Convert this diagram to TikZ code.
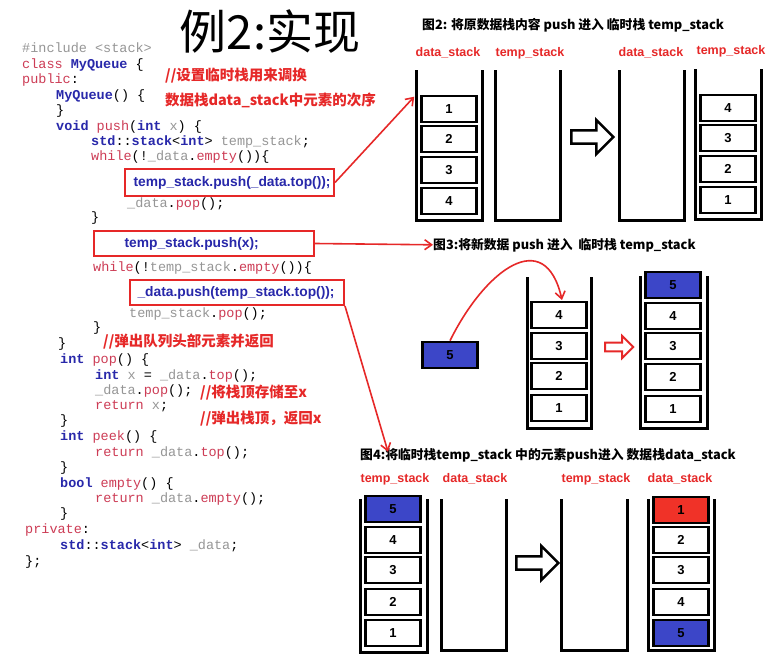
\documentclass[tikz,border=0pt]{standalone}
\usepackage{fontspec}
\setmainfont{Liberation Sans}
\setmonofont{Liberation Mono}
\newfontfamily\cjk{Noto Sans CJK SC}
\usetikzlibrary{shapes.arrows,arrows.meta}
\definecolor{kwblue}{RGB}{40,40,170}
\definecolor{kwred}{RGB}{205,60,85}
\definecolor{cgrey}{RGB}{150,150,150}
\definecolor{hlred}{RGB}{230,40,40}
\definecolor{boxblue}{RGB}{60,70,200}
\definecolor{boxred}{RGB}{240,50,40}
\newcommand\kb[1]{\textcolor{kwblue}{\textbf{#1}}}
\newcommand\kr[1]{\textcolor{kwred}{#1}}
\newcommand\kg[1]{\textcolor{cgrey}{#1}}
\begin{document}
\begin{tikzpicture}[x=1pt,y=-1pt,
  code/.style={anchor=base west,inner sep=0pt,font=\ttfamily\fontsize{13.5}{14}\selectfont},
  hl/.style={draw=hlred,line width=2pt,inner sep=0pt,anchor=north west},
  hltext/.style={font=\bfseries\fontsize{13.8}{15}\selectfont,text=kwblue},
  cmt/.style={anchor=base west,inner sep=0pt,text=hlred,font=\cjk\bfseries\fontsize{14.5}{16}\selectfont},
  ttl/.style={anchor=base west,inner sep=0pt,font=\cjk\bfseries\fontsize{12.8}{14}\selectfont},
  slabel/.style={text=hlred,inner sep=0pt,font=\bfseries\fontsize{12.5}{14}\selectfont},
  wall/.style={line width=3pt,line cap=rect},
  cell/.style={draw,line width=2.6pt,fill=white,minimum width=55pt,minimum height=26pt,inner sep=0pt,font=\bfseries\fontsize{13}{14}\selectfont},
  hollow/.style={single arrow,draw,line width=2.5pt,fill=white,minimum width=34pt,single arrow head extend=5pt,minimum height=42pt,inner sep=2pt},
  redarr/.style={draw=hlred,line width=1.6pt,-{Straight Barb[length=7pt,width=10pt]}}]
\useasboundingbox[fill=white] (0,0) rectangle (778,660);

% title
\node[inner sep=0pt,font=\cjk\fontsize{47}{50}\selectfont] (title) at (270,32) {例2:实现};

% code
\node[code] (l1) at (22,53) {\kg{\#include <stack>}};
\node[code] (l2) at (22,69) {\kr{class} \kb{MyQueue} \{};
\node[code] (l3) at (22,84) {\kr{public}:};
\node[code] (l4) at (56,100) {\kb{MyQueue}() \{};
\node[code] (l5) at (56,115) {\}};
\node[code] (l6) at (56,131) {\kb{void} \kr{push}(\kb{int} \kg{x}) \{};
\node[code] (l7) at (91,146) {\kb{std}::\kb{stack}<\kb{int}> \kg{temp\_stack};};
\node[code] (l8) at (91,161) {\kr{while}(!\kg{\_data}.\kr{empty}())\{};
\node[code] (l10) at (127,208) {\kg{\_data}.\kr{pop}();};
\node[code] (l11) at (91,222) {\}};
\node[code] (l13) at (93,271) {\kr{while}(!\kg{temp\_stack}.\kr{empty}())\{};
\node[code] (l15) at (129,317) {\kg{temp\_stack}.\kr{pop}();};
\node[code] (l16) at (93,331) {\}};
\node[code] (l17) at (58,347) {\}};
\node[code] (l18) at (60,363) {\kb{int} \kr{pop}() \{};
\node[code] (l19) at (95,379) {\kb{int} \kg{x} = \kg{\_data}.\kr{top}();};
\node[code] (l20) at (95,394) {\kg{\_data}.\kr{pop}();};
\node[code] (l21) at (95,409) {\kr{return} \kg{x};};
\node[code] (l22) at (60,424) {\}};
\node[code] (l23) at (60,440) {\kb{int} \kr{peek}() \{};
\node[code] (l24) at (95,456) {\kr{return} \kg{\_data}.\kr{top}();};
\node[code] (l25) at (60,471) {\}};
\node[code] (l26) at (60,487) {\kb{bool} \kr{empty}() \{};
\node[code] (l27) at (95,502) {\kr{return} \kg{\_data}.\kr{empty}();};
\node[code] (l28) at (60,517) {\}};
\node[code] (l29) at (25,533) {\kr{private}:};
\node[code] (l30) at (60,549) {\kb{std}::\kb{stack}<\kb{int}> \kg{\_data};};
\node[code] (l31) at (25,565) {\};};

% highlighted lines
\node[hl,minimum width=209pt,minimum height=27pt] (h1) at (124,168) {};
\node[hltext,anchor=west] at ([xshift=6pt]h1.west) {temp\_stack.push(\_data.top());};
\node[hl,minimum width=220pt,minimum height=25pt] (h2) at (93,230) {};
\node[hltext,anchor=west] at ([xshift=28pt]h2.west) {temp\_stack.push(x);};
\node[hl,minimum width=214pt,minimum height=25pt] (h3) at (129,279) {};
\node[hltext,anchor=west] at ([xshift=5pt]h3.west) {\_data.push(temp\_stack.top());};

% comments
\node[cmt] (c1) at (165,81) {//设置临时栈用来调换};
\node[cmt] (c2) at (165,106) {数据栈data\_stack中元素的次序};
\node[cmt] (c3) at (103,346) {//弹出队列头部元素并返回};
\node[cmt] (c4) at (200,397) {//将栈顶存储至x};
\node[cmt] (c5) at (200,423) {//弹出栈顶，返回x};

% ---------- figure 2
\node[ttl] (t2) at (422,30) {图2: 将原数据栈内容 push 进入 临时栈 temp\_stack};
\node[slabel] at (448,53) {data\_stack};
\node[slabel] at (530,53) {temp\_stack};
\node[slabel] at (651,53) {data\_stack};
\node[slabel] at (731,51) {temp\_stack};
\draw[wall] (416,72) -- (416,221) -- (482,221) -- (482,72);
\draw[wall] (495,72) -- (495,221) -- (560,221) -- (560,72);
\draw[wall] (619,72) -- (619,221) -- (684,221) -- (684,72);
\draw[wall] (695,71) -- (695,220) -- (761,220) -- (761,71);
\node[cell] (a1) at (449,109) {1};
\node[cell] (a2) at (449,139) {2};
\node[cell] (a3) at (449,170) {3};
\node[cell] (a4) at (449,201) {4};
\node[cell] (b4) at (728,108) {4};
\node[cell] (b3) at (728,138) {3};
\node[cell] (b2) at (728,169) {2};
\node[cell] (b1) at (728,200) {1};
\node[hollow] (ar2) at (589,137) {};

% ---------- figure 3
\node[ttl] (t3) at (433,249) {图3:将新数据 push 进入\ \ 临时栈 temp\_stack};
\draw[wall] (527,278) -- (527,428) -- (591,428) -- (591,278);
\draw[wall] (640,277) -- (640,428) -- (707,428) -- (707,277);
\node[cell] (d4) at (559,315) {4};
\node[cell] (d3) at (559,346) {3};
\node[cell] (d2) at (559,376) {2};
\node[cell] (d1) at (559,408) {1};
\node[cell,fill=boxblue] (new5) at (450,355) {5};
\node[cell,fill=boxblue] (e5) at (673,285) {5};
\node[cell] (e4) at (673,316) {4};
\node[cell] (e3) at (673,346) {3};
\node[cell] (e2) at (673,377) {2};
\node[cell] (e1) at (673,409) {1};
\node[single arrow,draw=hlred,line width=2pt,fill=white,minimum width=22pt,single arrow head extend=3pt,minimum height=28pt,inner sep=1pt] (ar3) at (617,347) {};
\coordinate (drop) at (562,300);
\draw[redarr] (new5.north) .. controls (485,270) and (545,225) .. (drop);

% ---------- figure 4
\node[ttl] (t4) at (360,459) {图4:将临时栈temp\_stack 中的元素push进入 数据栈data\_stack};
\node[slabel] at (395,479) {temp\_stack};
\node[slabel] at (475,479) {data\_stack};
\node[slabel] at (596,479) {temp\_stack};
\node[slabel] at (680,479) {data\_stack};
\draw[wall] (360,500) -- (360,652) -- (427,652) -- (427,500);
\draw[wall] (441,500) -- (441,650) -- (506,650) -- (506,500);
\draw[wall] (561,500) -- (561,650) -- (627,650) -- (627,500);
\draw[wall] (648,500) -- (648,650) -- (714,650) -- (714,500);
\node[cell,fill=boxblue] (f5) at (393,509) {5};
\node[cell] (f4) at (393,540) {4};
\node[cell] (f3) at (393,570) {3};
\node[cell] (f2) at (393,602) {2};
\node[cell] (f1) at (393,633) {1};
\node[cell,fill=boxred] (g1) at (681,510) {1};
\node[cell] (g2) at (681,540) {2};
\node[cell] (g3) at (681,570) {3};
\node[cell] (g4) at (681,602) {4};
\node[cell,fill=boxblue] (g5) at (681,633) {5};
\node[hollow] (ar4) at (534,563) {};

% connectors from code to figures
\draw[redarr] (h1.east) -- ([xshift=-6pt,yshift=-2pt]a1.north west);
\draw[redarr] (h2.east) -- (t3.west);
\draw[redarr] (h3.south east) -- ([yshift=-4pt]t4.north west -| 388,0);
\end{tikzpicture}
\end{document}
